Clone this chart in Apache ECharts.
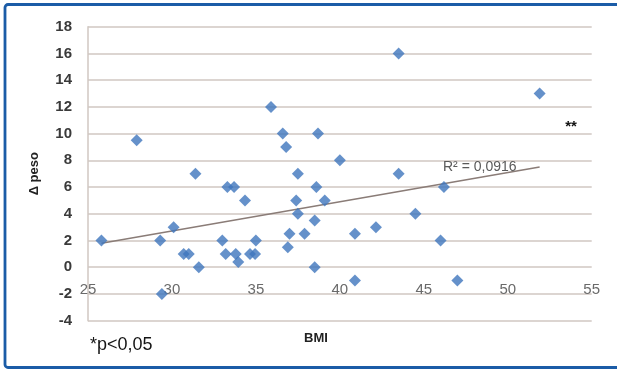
<!DOCTYPE html>
<html>
<head>
<meta charset="utf-8">
<script src="https://cdn.jsdelivr.net/npm/echarts@6/dist/echarts.min.js"></script>
<style>
html,body{margin:0;padding:0;background:#fff;}
#chart{width:617px;height:371px;}
</style>
</head>
<body>
<div id="chart"></div>
<script>
// Data
var bmi = [25.8, 27.9, 29.3, 29.4, 30.1, 30.7, 31.0, 31.4, 31.6, 33.0, 33.2, 33.3, 33.7, 33.8, 33.95, 34.35, 34.65, 34.95, 35.0,
           35.9, 36.6, 36.8, 36.9, 37.0, 37.4, 37.5, 37.5, 37.9, 38.5, 38.5, 38.6, 38.7, 39.1, 40.0, 40.9, 40.9,
           42.15, 43.5, 43.5, 44.5, 46.0, 46.2, 47.0, 51.9];
var deltaPeso = [2, 9.5, 2, -2, 3, 1, 1, 7, 0, 2, 1, 6, 6, 1, 0.4, 5, 1, 1, 2,
                 12, 10, 9, 1.5, 2.5, 5, 4, 7, 2.5, 3.5, 0, 6, 10, 5, 8, 2.5, -1,
                 3, 16, 7, 4, 2, 6, -1, 13];
// Linear trendline endpoints
var trendX = [25.8, 51.9];
var trendY = [1.8, 7.5];
var r2Label = 'R\u00B2 = 0,0916';
var xTicks = {min: 25, max: 55, interval: 5};
var yTicks = {min: -4, max: 18, interval: 2};

var points = bmi.map(function (x, i) { return [x, deltaPeso[i]]; });
var trend = trendX.map(function (x, i) { return [x, trendY[i]]; });

var chart = echarts.init(document.getElementById('chart'), null, {renderer: 'canvas'});
var gridColor = '#d0c7c2';
chart.setOption({
  animation: false,
  backgroundColor: '#ffffff',
  grid: {left: 88, right: 25.3, top: 26.7, bottom: 50.3, containLabel: false, outerBoundsMode: 'none'},
  xAxis: {
    type: 'value',
    position: 'bottom',
    min: xTicks.min, max: xTicks.max, interval: xTicks.interval,
    axisLine: {show: false, onZero: false},
    axisTick: {show: false},
    splitLine: {show: false},
    axisLabel: {inside: true, color: '#6a6a6a', fontSize: 15, fontFamily: 'Liberation Sans', margin: 23}
  },
  yAxis: {
    type: 'value',
    min: yTicks.min, max: yTicks.max, interval: yTicks.interval,
    axisLine: {show: true, onZero: false, lineStyle: {color: gridColor, width: 1.5}},
    axisTick: {show: false},
    splitLine: {show: true, lineStyle: {color: gridColor, width: 1.5}},
    axisLabel: {color: '#3a3a3a', fontSize: 15, fontFamily: 'Liberation Sans', fontWeight: 'bold', margin: 16},
    name: '\u0394 peso',
    nameLocation: 'middle',
    nameGap: 47,
    nameRotate: 90,
    nameTextStyle: {color: '#222', fontSize: 13, fontWeight: 'bold', fontFamily: 'Liberation Sans'}
  },
  series: [
    {
      type: 'line',
      data: trend,
      symbol: 'none',
      lineStyle: {color: '#8a7c77', width: 1.5},
      z: 2,
      silent: true
    },
    {
      type: 'scatter',
      data: points,
      symbol: 'diamond',
      symbolSize: [12, 12],
      itemStyle: {color: '#3f75bd'},
      z: 3
    }
  ],
  graphic: [
    {
      type: 'rect',
      shape: {x: 5, y: 4.5, width: 700, height: 363, r: 3},
      style: {fill: 'none', stroke: '#1b5ca7', lineWidth: 2.8},
      z: 100
    },
    {
      type: 'text',
      style: {x: 443, y: 167.5, text: r2Label, align: 'left', verticalAlign: 'middle', fill: '#5a5a5a', fontSize: 14, fontFamily: 'Liberation Sans'},
      z: 50
    },
    {
      type: 'text',
      style: {x: 571, y: 127, text: '**', align: 'center', verticalAlign: 'middle', fill: '#111', fontSize: 15, fontWeight: 'bold', fontFamily: 'Liberation Sans'},
      z: 50
    },
    {
      type: 'text',
      style: {x: 316, y: 338, text: 'BMI', align: 'center', verticalAlign: 'middle', fill: '#222', fontSize: 13, fontWeight: 'bold', fontFamily: 'Liberation Sans'},
      z: 50
    },
    {
      type: 'text',
      style: {x: 90, y: 345, text: '*p<0,05', align: 'left', verticalAlign: 'middle', fill: '#151515', fontSize: 18, fontFamily: 'Liberation Sans'},
      z: 50
    }
  ]
});
</script>
</body>
</html>
